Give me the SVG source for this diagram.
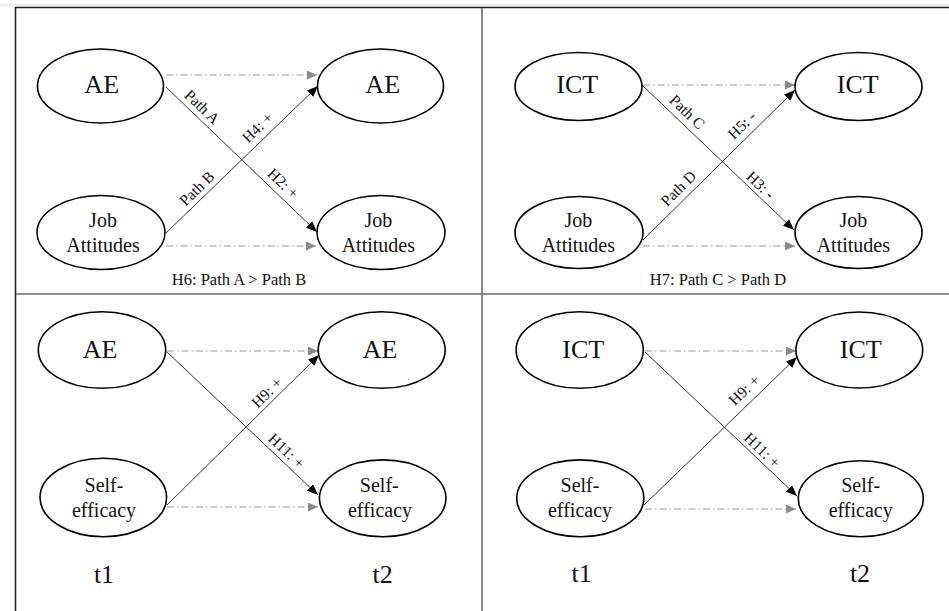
<svg xmlns="http://www.w3.org/2000/svg" width="949" height="611" viewBox="0 0 949 611" font-family="'Liberation Serif', 'Times New Roman', Tinos, 'DejaVu Serif', serif">
<style>
.node{fill:#fff;stroke:#000;stroke-width:1.6}
text{font-family:'Liberation Serif','Times New Roman',Tinos,'DejaVu Serif',serif;fill:#111;text-anchor:middle}
.big{font-size:26px}
.mid{font-size:20px}
.lab{font-size:15.5px}
.foot{font-size:16.5px}
.edge{stroke:#333;stroke-width:1;fill:none;marker-end:url(#ab)}
.dash{stroke:#999;stroke-width:1.2;fill:none;stroke-dasharray:7 3 1.5 3;marker-end:url(#ag)}
.frame{stroke:#222;stroke-width:1.6}
.div{stroke:#6a6a6a;stroke-width:1.6}
</style>
<defs>
<marker id="ab" markerWidth="12" markerHeight="10" refX="11" refY="4.5" orient="auto" markerUnits="userSpaceOnUse"><path d="M0,0 L11,4.5 L0,9 z" fill="#000"/></marker>
<marker id="ag" markerWidth="12" markerHeight="10" refX="10" refY="4.5" orient="auto" markerUnits="userSpaceOnUse"><path d="M0,0 L10,4.5 L0,9 z" fill="#8a8a8a"/></marker>
</defs>
<rect x="0" y="0" width="949" height="611" fill="#fff"/>
<rect x="0" y="3.5" width="949" height="3" fill="#ececec"/>
<g id="frame">
<line class="frame" x1="15" y1="7.5" x2="949" y2="7.5"/>
<line class="frame" x1="15.5" y1="7" x2="15.5" y2="611"/>
<line class="div" x1="482" y1="8" x2="482" y2="611"/>
<line class="div" x1="16" y1="294" x2="949" y2="294"/>
</g>
<g id="connectors">
<line class="dash" x1="166" y1="75" x2="317" y2="75"/>
<line class="dash" x1="166" y1="246" x2="316" y2="246"/>
<line class="edge" x1="166" y1="87" x2="317" y2="232"/>
<line class="edge" x1="166" y1="233" x2="318" y2="86"/>
<line class="dash" x1="643" y1="85" x2="795" y2="85"/>
<line class="dash" x1="643" y1="246" x2="795" y2="246"/>
<line class="edge" x1="642" y1="85" x2="794" y2="230"/>
<line class="edge" x1="643" y1="240" x2="795" y2="90"/>
<line class="dash" x1="167" y1="351" x2="318" y2="351"/>
<line class="dash" x1="167" y1="507" x2="318" y2="507"/>
<line class="edge" x1="167" y1="352" x2="318" y2="495"/>
<line class="edge" x1="167" y1="505" x2="319" y2="355"/>
<line class="dash" x1="645" y1="351" x2="796" y2="351"/>
<line class="dash" x1="645" y1="509" x2="796" y2="509"/>
<line class="edge" x1="645" y1="352" x2="797" y2="496"/>
<line class="edge" x1="644" y1="505" x2="797" y2="357"/>
</g>
<g id="edge-labels">
<text class="lab" transform="translate(202.3,106.7) rotate(43.8)" dy="0.35em">Path A</text>
<text class="lab" transform="translate(257.3,127.3) rotate(-44.4)" dy="0.35em">H4: +</text>
<text class="lab" transform="translate(196.7,188.3) rotate(-44.4)" dy="0.35em">Path B</text>
<text class="lab" transform="translate(283.3,183.3) rotate(43.8)" dy="0.35em">H2: +</text>
<text class="lab" transform="translate(687.3,111.7) rotate(43.6)" dy="0.35em">Path C</text>
<text class="lab" transform="translate(741.7,125) rotate(-44.8)" dy="0.35em">H5: -</text>
<text class="lab" transform="translate(678.3,188.3) rotate(-44.8)" dy="0.35em">Path D</text>
<text class="lab" transform="translate(760.7,185) rotate(43.6)" dy="0.35em">H3: -</text>
<text class="lab" transform="translate(266.7,392.3) rotate(-44.8)" dy="0.35em">H9: +</text>
<text class="lab" transform="translate(286.7,450.7) rotate(43.6)" dy="0.35em">H11: +</text>
<text class="lab" transform="translate(744,390) rotate(-43.9)" dy="0.35em">H9: +</text>
<text class="lab" transform="translate(762.3,450) rotate(43.6)" dy="0.35em">H11: +</text>
<text class="foot" x="239" y="285">H6: Path A &gt; Path B</text>
<text class="foot" x="718" y="285">H7: Path C &gt; Path D</text>
<text class="big" x="104" y="583">t1</text>
<text class="big" x="382.7" y="583">t2</text>
<text class="big" x="581.7" y="582">t1</text>
<text class="big" x="860" y="582">t2</text>
</g>
<g id="n-ae-t1-a"><ellipse class="node" cx="100.5" cy="86" rx="63" ry="37"/><text class="big" x="101.7" y="93.3">AE</text></g>
<g id="n-ae-t2-a"><ellipse class="node" cx="380.5" cy="86" rx="63" ry="37"/><text class="big" x="382.7" y="93.3">AE</text></g>
<g id="n-ja-t1-a"><ellipse class="node" cx="101" cy="232.5" rx="64" ry="37"/><text class="mid" x="103" y="226.7">Job</text><text class="mid" x="103" y="251.7">Attitudes</text></g>
<g id="n-ja-t2-a"><ellipse class="node" cx="381" cy="232.5" rx="64" ry="37"/><text class="mid" x="378.3" y="226.7">Job</text><text class="mid" x="378.3" y="251.7">Attitudes</text></g>
<g id="n-ict-t1-b"><ellipse class="node" cx="578.5" cy="86.5" rx="63.5" ry="34"/><text class="big" x="577.3" y="93.3">ICT</text></g>
<g id="n-ict-t2-b"><ellipse class="node" cx="858.5" cy="86.5" rx="63.5" ry="34"/><text class="big" x="857.7" y="93.3">ICT</text></g>
<g id="n-ja-t1-b"><ellipse class="node" cx="579" cy="232.5" rx="64" ry="36"/><text class="mid" x="578.3" y="226.7">Job</text><text class="mid" x="578.3" y="251.7">Attitudes</text></g>
<g id="n-ja-t2-b"><ellipse class="node" cx="858.5" cy="232.5" rx="63.5" ry="36"/><text class="mid" x="853.3" y="226.7">Job</text><text class="mid" x="853.3" y="251.7">Attitudes</text></g>
<g id="n-ae-t1-c"><ellipse class="node" cx="102" cy="350" rx="63.7" ry="38.3"/><text class="big" x="100" y="358.3">AE</text></g>
<g id="n-ae-t2-c"><ellipse class="node" cx="381.7" cy="350" rx="63.5" ry="38.3"/><text class="big" x="380" y="358.3">AE</text></g>
<g id="n-se-t1-c"><ellipse class="node" cx="103.3" cy="497.5" rx="63.3" ry="39.2"/><text class="mid" x="104" y="491.7">Self-</text><text class="mid" x="104" y="516.7">efficacy</text></g>
<g id="n-se-t2-c"><ellipse class="node" cx="382.7" cy="498.3" rx="63.3" ry="38.4"/><text class="mid" x="379.3" y="491.7">Self-</text><text class="mid" x="380" y="516.7">efficacy</text></g>
<g id="n-ict-t1-d"><ellipse class="node" cx="579.7" cy="350" rx="63.6" ry="38.3"/><text class="big" x="583.3" y="358.3">ICT</text></g>
<g id="n-ict-t2-d"><ellipse class="node" cx="859.3" cy="350" rx="63.4" ry="38"/><text class="big" x="860.7" y="358.3">ICT</text></g>
<g id="n-se-t1-d"><ellipse class="node" cx="580.3" cy="498.3" rx="63.6" ry="38.4"/><text class="mid" x="580" y="491.7">Self-</text><text class="mid" x="580" y="516.7">efficacy</text></g>
<g id="n-se-t2-d"><ellipse class="node" cx="860.8" cy="498.7" rx="62.5" ry="38"/><text class="mid" x="860.7" y="491.7">Self-</text><text class="mid" x="860.7" y="516.7">efficacy</text></g>
</svg>
